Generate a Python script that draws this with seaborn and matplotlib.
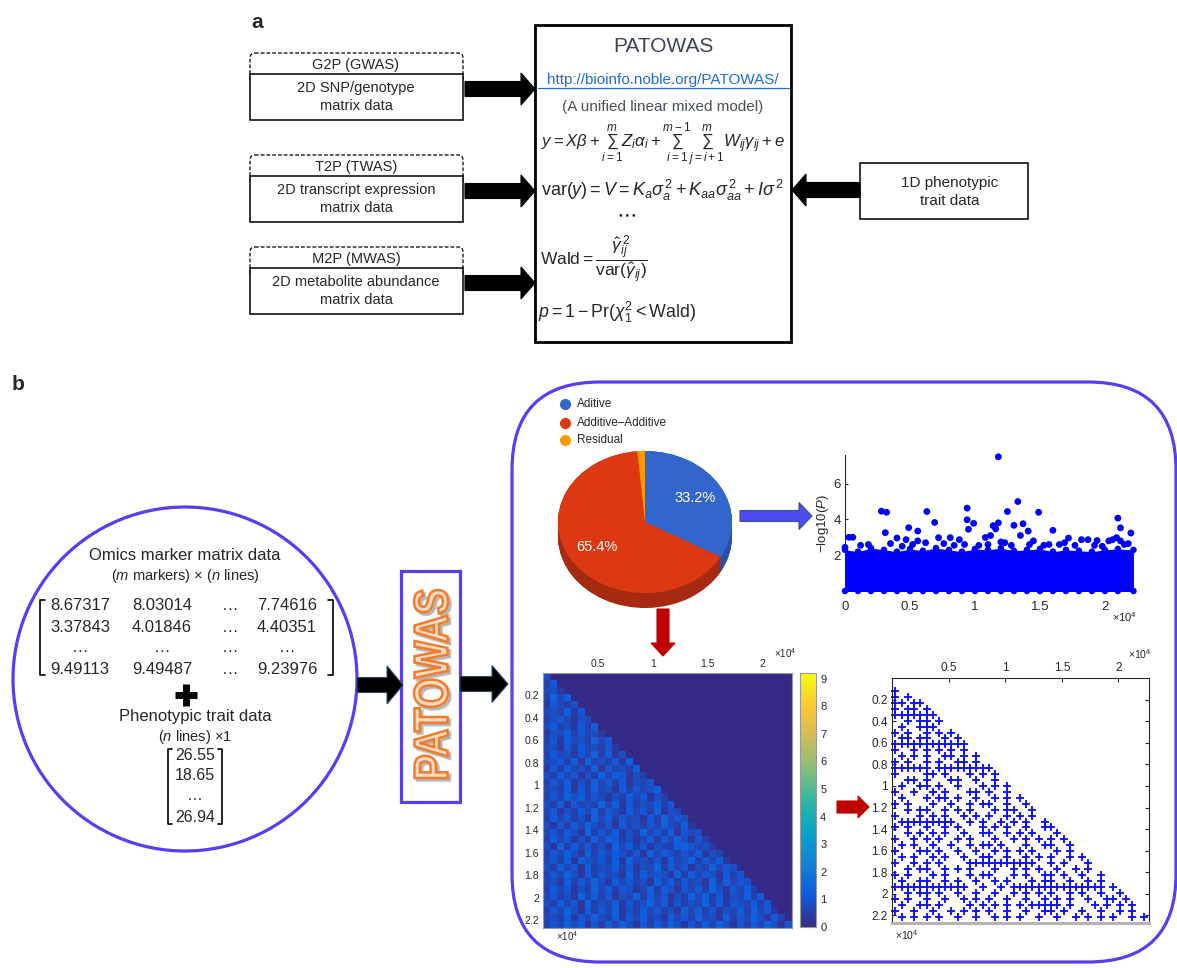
import numpy as np
import matplotlib
matplotlib.use("Agg")  # no display
import matplotlib.pyplot as plt
import matplotlib.patches as mpatches
from matplotlib.colors import LinearSegmentedColormap
from matplotlib.textpath import TextPath
from matplotlib.font_manager import FontProperties
from matplotlib.path import Path
import seaborn as sns


# ---------------------------------------------------------------------------
# DATA
# ---------------------------------------------------------------------------
W, H = 1177, 968

# panel a
source_names = ["G2P (GWAS)", "T2P (TWAS)", "M2P (MWAS)"]
source_inputs = ["2D SNP/genotype\nmatrix data",
                 "2D transcript expression\nmatrix data",
                 "2D metabolite abundance\nmatrix data"]
pheno_input = "1D phenotypic\ntrait data"
model_title = "PATOWAS"
model_url = "http://bioinfo.noble.org/PATOWAS/"
model_sub = "(A unified linear mixed model)"

# panel b, input matrix
marker_rows = [["8.67317", "8.03014", "\u2026", "7.74616"],
               ["3.37843", "4.01846", "\u2026", "4.40351"],
               ["\u2026", "\u2026", "\u2026", "\u2026"],
               ["9.49113", "9.49487", "\u2026", "9.23976"]]
trait_values = ["26.55", "18.65", "\u2026", "26.94"]

# variance components (pie)
var_labels = ["Aditive", "Additive\u2013Additive", "Residual"]
var_pct = [33.2, 65.4, 1.4]

# Manhattan plot (x in 1e4 markers, y = -log10 P)
man_x = [
    1.18, 1.33, 0.94, 0.28, 0.32, 0.63, 1.25, 1.49, 0.94, 2.10,
    0.69, 0.99, 1.18, 1.37, 1.30, 1.14, 0.95, 0.49, 0.56, 0.31,
    2.12, 2.20, 1.60, 1.41, 1.16, 1.35, 1.12, 1.08, 1.72, 0.81,
    0.72, 0.47, 0.40, 0.03, 0.06, 1.82, 1.87, 1.94, 2.06, 2.09,
    1.45, 0.88, 2.03, 2.12, 0.56, 0.00, 1.20, 0.12, 0.18, 0.35,
    0.44, 0.52, 0.62, 0.76, 0.84, 0.92, 1.03, 1.10, 1.23, 1.28,
    1.42, 1.53, 1.57, 1.65, 1.69, 1.77, 1.92, 1.98, 2.15, 2.18,
]
man_y = [
    7.50, 5.00, 4.63, 4.46, 4.40, 4.44, 4.44, 4.40, 3.98, 4.07,
    3.83, 3.78, 3.81, 3.76, 3.67, 3.65, 3.45, 3.54, 3.35, 3.26,
    3.53, 3.24, 3.39, 3.35, 3.47, 3.10, 3.10, 2.99, 2.96, 2.98,
    2.98, 2.87, 2.96, 3.00, 3.00, 2.87, 2.87, 2.82, 2.87, 2.98,
    2.80, 2.87, 2.80, 2.80, 2.80, 2.44, 2.74, 2.55, 2.60, 2.65,
    2.50, 2.60, 2.70, 2.65, 2.55, 2.60, 2.55, 2.60, 2.70, 2.55,
    2.60, 2.55, 2.60, 2.60, 2.70, 2.55, 2.55, 2.50, 2.60, 2.65,
]
# dense bulk of markers: upper edge of the solid band
band_x = [0.00, 0.10, 0.20, 0.30, 0.40, 0.50, 0.60, 0.70, 0.80, 0.90, 1.00, 1.10,
          1.20, 1.30, 1.40, 1.50, 1.60, 1.70, 1.80, 1.90, 2.00, 2.10, 2.22]
band_top = [2.30, 2.20, 2.40, 2.30, 2.20, 2.35, 2.25, 2.40, 2.30, 2.20, 2.35, 2.30,
            2.40, 2.25, 2.30, 2.35, 2.20, 2.30, 2.25, 2.20, 2.30, 2.35, 2.30]
man_xticks = [0, 0.5, 1, 1.5, 2]
man_yticks = [2, 4, 6]

# epistasis -log10 P matrix, lower triangle; digit d = 0.17*d
N_MARKERS = 2.27  # x 1e4
heat_rows = [
    "5",
    "36",
    "452",
    "3847",
    "26435",
    "453726",
    "3564254",
    "47352637",
    "254736452",
    "3627453846",
    "45263745362",
    "374526483725",
    "4563728453627",
    "26374538264537",
    "537462538476253",
    "3647253846372546",
    "45372638452736458",
    "364857364253746253",
    "5372645384726354736",
    "46253748365274638254",
    "374635284736452738465",
    "5263748536274536485372",
    "46375283647253846372645",
    "374625384763524736485263",
    "5283746352847362543786452",
    "36475283647536284753647253",
    "463728546372845362745836472",
    "5374628354736254837462538465",
    "36485273645283746528374652736",
    "452736485274635284736452837465",
    "3746253847365248375264738526473",
    "46352847362548374625384736254837",
    "537462835472635847263548372654736",
    "3648527364825374635284736254738462",
    "45372648537264835274638452736485273",
    "364857263748526374852637485263748526",
]
heat_ticks_x = [0.5, 1, 1.5, 2]
heat_ticks_y = [0.2, 0.4, 0.6, 0.8, 1, 1.2, 1.4, 1.6, 1.8, 2, 2.2]

# significant pairs on a grid of 0.055e4 cells ('+' = significant pair)
PLUS_X0, PLUS_Y0, PLUS_STEP = 0.03, 0.12, 0.055
plus_rows = [
    "+..",
    "+.+.",
    "++.++",
    "+.++. +",
    "+++++ ++",
    "..+.+ +.+",
    ".+..+ ++..",
    "+.+.. +.+.+",
    ".++.+ +..+. +",
    "+++++ +++++ ++",
    "+..+. +.+.+ .+.",
    ".+.+. +..++ .+.+",
    "+.+.. +.+.. ++.+.",
    "+++++ +.+++ +++++ +",
    "+.... ++.+. ..+.+ .+",
    "..++. +...+ +..+. .+.",
    ".+..+ +.+.. +...+ .+.+",
    "+..+. .+.+. ..++. +..+.",
    ".+... +.++. +..+. .+.+. +",
    "+.+.. .+..+ ..+.+ +..+. .+",
    "..+.+ +..+. +.+.. .+.++ ..+",
    "+...+ .+.+. .+.+. +..+. +.+.",
    ".++++ +++++ ..+.+ ..+.+ .+..+",
    "+.+.. +..+. +...+ .+.+. .+..+ +",
    "..+.+ .+.+. .+..+ +..+. +.+.. .+",
    "+..+. +.+.. +.+.. .+..+ .+.+. +.+",
    ".+.+. .+..+ ..+.+ +.+.. .+..+ +..+",
    "+...+ +.+.. +..+. .+.+. +.+.. .+.+.",
    ".+.+. .+.+. .+..+ +..+. .+.+. +..+. +",
    "+..+. +.+.. ..+++ +++++ +++.. +.+.. .+",
    "..+.+ +..+. +.+.. .+..+ .+.+. .+..+ .+.",
    "+.+.. .+.+. ..+.+ +...+ .+..+ +.+.. +..+",
    ".+..+ +..+. +..+. .+.+. ..+.+ +..+. .+.+.",
    "+++++ +++++ ++..+ ..+.+ +++++ +++++ ++++. +",
    "..+.+ +.+.. +..+. .+..+ .+.+. +..+. +..+. .+",
    "+.+.. +..+. .+.+. +..+. .+..+ .+.+. .+..+ +.+",
    ".+..+ +.+.. ..+.+ .+.+. +.+++ ++.+. ..+.+ .+.+",
    "+..+. .+..+ .+.+. +..+. .+..+ +.+.. +..+. .+.+.",
    ".+.+. +.+.. +..+. .+.+. +..+. .+..+ .+.+. +..+. +",
]

# ---------------------------------------------------------------------------
# STYLE
# ---------------------------------------------------------------------------
sns.set_style("ticks")
plt.rcParams["font.family"] = ["Liberation Sans", "DejaVu Sans"]
plt.rcParams.update({
    "mathtext.fontset": "custom",
    "mathtext.rm": "Liberation Sans",
    "mathtext.it": "Liberation Sans:italic",
    "mathtext.bf": "Liberation Sans:bold",
})
FRAME_BLUE = "#5b3cf6"
PIE_TOP = ["#3366cc", "#dc3912", "#ff9900"]
PIE_SIDE = ["#2850a0", "#a52a10", "#c47400"]
parula = LinearSegmentedColormap.from_list(
    "parula", ["#352A87", "#0F5CDD", "#1481D6", "#06A4CA", "#2EB7A4",
               "#87BF77", "#D1BB59", "#FEC832", "#F9FB0E"])


def px_rect(x0, y0, x1, y1):
    return [x0 / W, 1 - y1 / H, (x1 - x0) / W, (y1 - y0) / H]


def arrow(ax, x0, y0, x1, y1, width, head_w, head_len, fc, ec=None):
    ax.add_patch(mpatches.FancyArrow(
        x0, y0, x1 - x0, y1 - y0, width=width, head_width=head_w,
        head_length=head_len, length_includes_head=True,
        fc=fc, ec=ec or fc, lw=0.8, zorder=3))


fig = plt.figure(figsize=(W / 100, H / 100), dpi=100)
ov = fig.add_axes([0, 0, 1, 1])
ov.set_xlim(0, W)
ov.set_ylim(H, 0)
ov.axis("off")

# ---------------------------------------------------------------------------
# PANEL A
# ---------------------------------------------------------------------------
ov.text(257, 22, "a", fontsize=15, fontweight="bold", ha="center", va="center")

box_tops = [53, 155, 247]
for top, name, desc in zip(box_tops, source_names, source_inputs):
    ov.add_patch(mpatches.FancyBboxPatch(
        (250, top), 213, 30, boxstyle="round,pad=0,rounding_size=5",
        fc="white", ec="black", lw=0.9, ls=(0, (3, 1.6))))
    ov.add_patch(mpatches.Rectangle((250, top + 21), 213, 46, fc="white",
                                    ec="black", lw=1.1))
    ov.text(356, top + 12, name, fontsize=10.5, ha="center", va="center")
    ov.text(356, top + 44, desc, fontsize=10.5, ha="center", va="center",
            linespacing=1.3)
    arrow(ov, 465, top + 36, 535, top + 36, 15, 32, 14, "black")

ov.add_patch(mpatches.Rectangle((535, 25), 256, 317, fc="white", ec="black", lw=2))
ov.text(663, 47, model_title, fontsize=15, ha="center", va="center", color="#3d4354")
ov.text(663, 80, model_url, fontsize=11, ha="center", va="center", color="#1f6fd1")
ov.plot([538, 789], [88, 88], color="#1f6fd1", lw=0.9)
ov.text(663, 107, model_sub, fontsize=11, ha="center", va="center", color="#4a4f5e")
ov.text(541, 145, r"$y = X\beta + \sum_{i=1}^{m} Z_i\alpha_i + \sum_{i=1}^{m-1}"
        r"\sum_{j=i+1}^{m} W_{ij}\gamma_{ij} + e$",
        fontsize=12.1, ha="left", va="center")
ov.text(541, 190, r"$\mathrm{var}(y) = V = K_a\sigma_a^{\,2} + K_{aa}\sigma_{aa}^{\,2}"
        r" + I\sigma^{\,2}$", fontsize=13, ha="left", va="center")
ov.text(626, 214, r"$\cdots$", fontsize=16, ha="center", va="center",
        fontweight="bold")
ov.text(540, 260, r"$\mathrm{Wald} = \dfrac{\hat{\gamma}_{ij}^{\,2}}"
        r"{\mathrm{var}(\hat{\gamma}_{ij})}$", fontsize=12.5, ha="left", va="center")
ov.text(538, 312, r"$p = 1 - \mathrm{Pr}(\chi_1^2 < \mathrm{Wald})$",
        fontsize=12.8, ha="left", va="center")

ov.add_patch(mpatches.Rectangle((860, 163), 168, 56, fc="white", ec="black", lw=1.1))
ov.text(950, 192, pheno_input, fontsize=11, ha="center", va="center", linespacing=1.3)
arrow(ov, 860, 190, 792, 190, 15, 32, 14, "black")

# ---------------------------------------------------------------------------
# PANEL B - input data circle
# ---------------------------------------------------------------------------
ov.text(18, 384, "b", fontsize=15, fontweight="bold", ha="center", va="center")
ov.add_patch(mpatches.Circle((185, 679), 172, fc="white", ec=FRAME_BLUE, lw=2.3))
ov.text(185, 555, "Omics marker matrix data", fontsize=12, ha="center", va="center")
ov.text(185, 576, r"($\it{m}$ markers) $\times$ ($\it{n}$ lines)", fontsize=10.5,
        ha="center", va="center")
col_x = [80, 162, 230, 287]
row_y = [606, 627, 648, 669]
for ry, row in zip(row_y, marker_rows):
    for cx, val in zip(col_x, row):
        ov.text(cx, ry, val, fontsize=12, ha="center", va="center")
ov.plot([45, 40, 40, 45], [600, 600, 675, 675], color="black", lw=1.2)
ov.plot([328, 333, 333, 328], [600, 600, 675, 675], color="black", lw=1.2)
ov.plot([175, 197], [695, 695], color="black", lw=5, solid_capstyle="butt")
ov.plot([186, 186], [684, 706], color="black", lw=5, solid_capstyle="butt")
ov.text(195, 717, "Phenotypic trait data", fontsize=12, ha="center", va="center")
ov.text(195, 737, r"($\it{n}$ lines) $\times$1", fontsize=10.5, ha="center", va="center")
for ty, val in zip([755, 776, 796, 818], trait_values):
    ov.text(195, ty, val, fontsize=11.5, ha="center", va="center")
ov.plot([172, 168, 168, 172], [749, 749, 824, 824], color="black", lw=1.2)
ov.plot([218, 222, 222, 218], [749, 749, 824, 824], color="black", lw=1.2)

arrow(ov, 357, 685, 403, 685, 15, 38, 16, "black", "#2b4a6b")

# PATOWAS box with outlined word art
ov.add_patch(mpatches.Rectangle((401, 571), 59, 231, fc="white", ec=FRAME_BLUE, lw=2.3))
fp = FontProperties(family="Liberation Sans", weight="bold")
tp = TextPath((0, 0), "PATOWAS", size=1, prop=fp)
ext = tp.get_extents()
su = 188 / (ext.x1 - ext.x0)
sv = 34 / (ext.y1 - ext.y0)
vx = 431 - (tp.vertices[:, 1] - (ext.y0 + ext.y1) / 2) * sv
vy = 684 - (tp.vertices[:, 0] - (ext.x0 + ext.x1) / 2) * su
for dx, fc, ec, lw, alpha in [(2.5, "#9a9a9a", "#9a9a9a", 2.0, 0.55),
                              (0.0, "#fcd9bf", "#ef7d2f", 1.8, 1.0)]:
    ov.add_patch(mpatches.PathPatch(Path(np.column_stack([vx + dx, vy + dx]), tp.codes),
                                    fc=fc, ec=ec, lw=lw, alpha=alpha, zorder=4))

arrow(ov, 460, 684, 508, 684, 15, 37, 16, "black", "#2b4a6b")

# results frame
ov.add_patch(mpatches.FancyBboxPatch(
    (512, 382), 664, 580, boxstyle="round,pad=0,rounding_size=88",
    fc="none", ec=FRAME_BLUE, lw=2.3))

# legend of variance components
for ly, lab, col in zip([404, 423, 440], var_labels, PIE_TOP):
    ov.plot(565, ly, "o", ms=7, color=col)
    ov.text(577, ly, lab, fontsize=8.5, ha="left", va="center")

arrow(ov, 740, 516, 812, 516, 11, 27, 13, "#4b4cf2", "#3a5080")
arrow(ov, 663, 609, 663, 656, 12, 24, 13, "#c00000")
arrow(ov, 837, 807, 869, 807, 12, 22, 11, "#c00000")

# ---------------------------------------------------------------------------
# PIE (pseudo 3D)
# ---------------------------------------------------------------------------
ax_p = fig.add_axes(px_rect(558, 451, 732, 608))
depth = 0.21
for d in np.linspace(depth, 0.0, 14):
    ax_p.pie(var_pct, colors=PIE_SIDE, startangle=90, counterclock=False,
             center=(0, -d), radius=1, wedgeprops=dict(lw=0))
ax_p.pie(var_pct, colors=PIE_TOP, startangle=90, counterclock=False,
         radius=1, wedgeprops=dict(lw=0),
         autopct=lambda p: f"{p:.1f}%" if p > 5 else "", pctdistance=0.66,
         textprops=dict(color="white", fontsize=10.5))
ax_p.set_aspect("auto")
ax_p.set_xlim(-1, 1)
ax_p.set_ylim(-1 - depth, 1)
ax_p.axis("off")

# ---------------------------------------------------------------------------
# MANHATTAN PLOT
# ---------------------------------------------------------------------------
ax_m = fig.add_axes(px_rect(845, 455, 1138, 591))
ax_m.fill_between(band_x, -0.06, band_top, color="#0000ff", lw=0, zorder=2)
sns.scatterplot(x=band_x, y=band_top, color="#0000ff", s=22, edgecolor="none",
                ax=ax_m, clip_on=False, zorder=3)
sns.scatterplot(x=band_x, y=[0.0] * len(band_x), color="#0000ff", s=22,
                edgecolor="none", ax=ax_m, clip_on=False, zorder=3)
sns.scatterplot(x=man_x, y=man_y, color="#0000ff", s=24, edgecolor="none",
                ax=ax_m, clip_on=False, zorder=3)
ax_m.set_xlim(0, 2.255)
ax_m.set_ylim(0, 7.6)
ax_m.set_xticks(man_xticks)
ax_m.set_xticklabels([f"{t:g}" for t in man_xticks], fontsize=9.5)
ax_m.set_yticks(man_yticks)
ax_m.set_yticklabels([str(t) for t in man_yticks], fontsize=9.5)
ax_m.tick_params(axis="x", length=0, pad=7)
ax_m.tick_params(axis="y", length=2, direction="in", pad=3)
for side in ["top", "right", "bottom"]:
    ax_m.spines[side].set_visible(False)
ax_m.spines["left"].set_linewidth(0.8)
ax_m.set_ylabel(r"$-$log10($\it{P}$)", fontsize=9.5, labelpad=2)
ax_m.set_facecolor("none")
ov.text(1125, 617, r"$\times10^4$", fontsize=8, ha="center", va="center")

# ---------------------------------------------------------------------------
# EPISTASIS HEATMAP
# ---------------------------------------------------------------------------
n_cells = len(heat_rows)
heat = np.zeros((n_cells, n_cells))
for i, row in enumerate(heat_rows):
    heat[i, :len(row)] = [0.17 * int(c) for c in row]

ax_h = fig.add_axes(px_rect(543, 673, 792, 928))
ax_cb = fig.add_axes(px_rect(800, 673, 816, 927))
sns.heatmap(heat, cmap=parula, vmin=0, vmax=9.2, ax=ax_h, cbar_ax=ax_cb,
            xticklabels=False, yticklabels=False,
            cbar_kws={"ticks": list(range(10))})
ax_h.xaxis.tick_top()
ax_h.set_xticks([v * n_cells / N_MARKERS for v in heat_ticks_x])
ax_h.set_xticklabels([f"{v:g}" for v in heat_ticks_x], fontsize=7.5)
ax_h.set_yticks([v * n_cells / N_MARKERS for v in heat_ticks_y])
ax_h.set_yticklabels([f"{v:g}" for v in heat_ticks_y], fontsize=7.5, rotation=0)
ax_h.tick_params(direction="in", length=2, color="#777777", pad=3,
                 top=True, bottom=False, labeltop=True, labelbottom=False)
for sp in ax_h.spines.values():
    sp.set_visible(True)
    sp.set_color("#9a9a9a")
    sp.set_linewidth(0.8)
ax_cb.tick_params(labelsize=8, length=2, direction="in", pad=3)
cbar = ax_h.collections[0].colorbar
cbar.outline.set_edgecolor("#9a9a9a")
cbar.outline.set_linewidth(0.8)
ov.text(785, 653, r"$\times10^4$", fontsize=7, ha="center", va="center")
ov.text(567, 936, r"$\times10^4$", fontsize=7, ha="center", va="center")

# ---------------------------------------------------------------------------
# SIGNIFICANT PAIRS
# ---------------------------------------------------------------------------
pair_x, pair_y = [], []
for r, row in enumerate(plus_rows):
    for k, c in enumerate(row.replace(" ", "")):
        if c == "+":
            pair_x.append(PLUS_X0 + PLUS_STEP * k)
            pair_y.append(PLUS_Y0 + PLUS_STEP * r)

ax_s = fig.add_axes(px_rect(892, 678, 1149, 923))
sns.scatterplot(x=pair_x, y=pair_y, marker="+", s=26, color="#0a0aff",
                linewidth=1.3, ax=ax_s, clip_on=False)
ax_s.set_xlim(0, N_MARKERS)
ax_s.set_ylim(N_MARKERS, 0)
ax_s.xaxis.tick_top()
ax_s.set_xticks(heat_ticks_x)
ax_s.set_xticklabels([f"{v:g}" for v in heat_ticks_x], fontsize=8.5)
ax_s.set_yticks(heat_ticks_y)
ax_s.set_yticklabels([f"{v:g}" for v in heat_ticks_y], fontsize=8.5)
ax_s.tick_params(direction="in", length=3, top=True, bottom=False, right=True,
                 labeltop=True, labelbottom=False, pad=3)
for side in ["top", "left", "right"]:
    ax_s.spines[side].set_visible(True)
    ax_s.spines[side].set_linewidth(0.8)
ax_s.spines["bottom"].set_visible(True)
ax_s.spines["bottom"].set_color("#b5b5b5")
ax_s.spines["bottom"].set_linewidth(2.2)
ax_s.set_facecolor("none")
ov.text(1140, 654, r"$\times10^4$", fontsize=7.5, ha="center", va="center")
ov.text(907, 935, r"$\times10^4$", fontsize=7.5, ha="center", va="center")

fig.savefig("out.png", dpi=100, facecolor="white")
